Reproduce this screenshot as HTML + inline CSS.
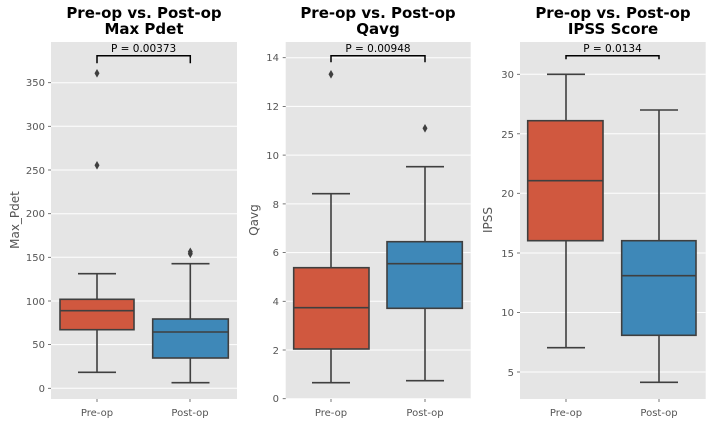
<!DOCTYPE html>
<html><head><meta charset="utf-8"><style>
html,body{margin:0;padding:0;background:#fff;}
svg{display:block;}
text{font-family:"DejaVu Sans","Liberation Sans",sans-serif;}
.t{font-weight:bold;font-size:15px;fill:#000;text-anchor:middle;}
.tk{font-size:10px;fill:#555;}
.yl{font-size:12px;fill:#555;text-anchor:middle;}
.p{font-size:10.5px;fill:#000;text-anchor:middle;}
.g{stroke:#fff;stroke-width:1;}
.l{stroke:#3f3f3f;stroke-width:1.6;fill:none;}
.r{fill:#d0583f;stroke:#3f3f3f;stroke-width:1.6;}
.b{fill:#3e88b8;stroke:#3f3f3f;stroke-width:1.6;}
.br{stroke:#000;stroke-width:1.5;fill:none;}
</style></head><body>
<svg width="712" height="424" viewBox="0 0 712 424">
<!-- Panel 1 -->
<rect x="51" y="42" width="186" height="357" fill="#e5e5e5"/>
<g class="g">
<line x1="51" x2="237" y1="388.3" y2="388.3"/><line x1="51" x2="237" y1="344.6" y2="344.6"/>
<line x1="51" x2="237" y1="301" y2="301"/><line x1="51" x2="237" y1="257.3" y2="257.3"/>
<line x1="51" x2="237" y1="213.7" y2="213.7"/><line x1="51" x2="237" y1="170" y2="170"/>
<line x1="51" x2="237" y1="126.3" y2="126.3"/><line x1="51" x2="237" y1="82.7" y2="82.7"/>
</g>
<g class="tk" text-anchor="end">
<text x="45" y="392">0</text><text x="45" y="348">50</text><text x="45" y="305">100</text>
<text x="45" y="261">150</text><text x="45" y="217">200</text><text x="45" y="174">250</text>
<text x="45" y="130">300</text><text x="45" y="86">350</text>
</g>
<g stroke="#555" stroke-width="0.8">
<line x1="48" x2="51" y1="388.3" y2="388.3"/><line x1="48" x2="51" y1="344.6" y2="344.6"/><line x1="48" x2="51" y1="301" y2="301"/><line x1="48" x2="51" y1="257.3" y2="257.3"/><line x1="48" x2="51" y1="213.7" y2="213.7"/><line x1="48" x2="51" y1="170" y2="170"/><line x1="48" x2="51" y1="126.3" y2="126.3"/><line x1="48" x2="51" y1="82.7" y2="82.7"/>
<line x1="97" x2="97" y1="399" y2="402"/><line x1="190" x2="190" y1="399" y2="402"/>
</g>
<g class="l">
<line x1="97" x2="97" y1="273.7" y2="299.3"/><line x1="97" x2="97" y1="329.7" y2="372.3"/>
<line x1="78" x2="116" y1="273.7" y2="273.7"/><line x1="78" x2="116" y1="372.3" y2="372.3"/>
<line x1="190.3" x2="190.3" y1="263.7" y2="319"/><line x1="190.3" x2="190.3" y1="358" y2="382.7"/>
<line x1="171.5" x2="209.5" y1="263.7" y2="263.7"/><line x1="171.5" x2="209.5" y1="382.7" y2="382.7"/>
</g>
<rect class="r" x="60" y="299.3" width="74" height="30.4"/>
<line class="l" x1="60" x2="134" y1="310.7" y2="310.7"/>
<rect class="b" x="152.7" y="319" width="75.6" height="39"/>
<line class="l" x1="152.7" x2="228.3" y1="332" y2="332"/>
<g fill="#3f3f3f">
<polygon points="97,69 99.5,73.3 97,77.6 94.5,73.3"/><polygon points="97,161 99.5,165.3 97,169.6 94.5,165.3"/>
<polygon points="190.3,249.5 192.8,253.8 190.3,258.1 187.8,253.8"/><polygon points="190.3,247.5 192.8,251.8 190.3,256.1 187.8,251.8"/>
</g>
<polyline class="br" points="97,63.3 97,55.7 190.3,55.7 190.3,63.3"/>
<text class="p" x="143.6" y="52">P = 0.00373</text>
<text class="t" x="144" y="18">Pre-op vs. Post-op</text>
<text class="t" x="144" y="34">Max Pdet</text>
<text class="yl" transform="translate(19,220) rotate(-90)">Max_Pdet</text>
<text class="tk" x="97" y="416" text-anchor="middle">Pre-op</text>
<text class="tk" x="190" y="416" text-anchor="middle">Post-op</text>

<!-- Panel 2 -->
<rect x="285.7" y="42" width="185" height="357" fill="#e5e5e5"/>
<g class="g">
<line x1="285.7" x2="470.7" y1="398.7" y2="398.7"/><line x1="285.7" x2="470.7" y1="350" y2="350"/>
<line x1="285.7" x2="470.7" y1="301.3" y2="301.3"/><line x1="285.7" x2="470.7" y1="252.6" y2="252.6"/>
<line x1="285.7" x2="470.7" y1="203.9" y2="203.9"/><line x1="285.7" x2="470.7" y1="155.1" y2="155.1"/>
<line x1="285.7" x2="470.7" y1="106.4" y2="106.4"/><line x1="285.7" x2="470.7" y1="57.7" y2="57.7"/>
</g>
<g class="tk" text-anchor="end">
<text x="279" y="402">0</text><text x="279" y="354">2</text><text x="279" y="305">4</text>
<text x="279" y="256">6</text><text x="279" y="208">8</text><text x="279" y="159">10</text>
<text x="279" y="110">12</text><text x="279" y="61">14</text>
</g>
<g stroke="#555" stroke-width="0.8">
<line x1="282.7" x2="285.7" y1="398.7" y2="398.7"/><line x1="282.7" x2="285.7" y1="350" y2="350"/><line x1="282.7" x2="285.7" y1="301.3" y2="301.3"/><line x1="282.7" x2="285.7" y1="252.6" y2="252.6"/><line x1="282.7" x2="285.7" y1="203.9" y2="203.9"/><line x1="282.7" x2="285.7" y1="155.1" y2="155.1"/><line x1="282.7" x2="285.7" y1="106.4" y2="106.4"/><line x1="282.7" x2="285.7" y1="57.7" y2="57.7"/>
<line x1="331" x2="331" y1="399" y2="402"/><line x1="425" x2="425" y1="399" y2="402"/>
</g>
<g class="l">
<line x1="331" x2="331" y1="193.7" y2="267.7"/><line x1="331" x2="331" y1="349" y2="382.7"/>
<line x1="312" x2="350" y1="193.7" y2="193.7"/><line x1="312" x2="350" y1="382.7" y2="382.7"/>
<line x1="425" x2="425" y1="166.7" y2="241.7"/><line x1="425" x2="425" y1="308.3" y2="380.7"/>
<line x1="406" x2="444" y1="166.7" y2="166.7"/><line x1="406" x2="444" y1="380.7" y2="380.7"/>
</g>
<rect class="r" x="293.7" y="267.7" width="75.3" height="81.3"/>
<line class="l" x1="293.7" x2="369" y1="307.7" y2="307.7"/>
<rect class="b" x="387" y="241.7" width="75.3" height="66.6"/>
<line class="l" x1="387" x2="462.3" y1="263.7" y2="263.7"/>
<g fill="#3f3f3f">
<polygon points="331,70 333.5,74.3 331,78.6 328.5,74.3"/><polygon points="425,124 427.5,128.3 425,132.6 422.5,128.3"/>
</g>
<polyline class="br" points="331,62.3 331,55.7 425,55.7 425,62.3"/>
<text class="p" x="378" y="52">P = 0.00948</text>
<text class="t" x="378" y="18">Pre-op vs. Post-op</text>
<text class="t" x="378" y="34">Qavg</text>
<text class="yl" transform="translate(258,220) rotate(-90)">Qavg</text>
<text class="tk" x="331" y="416" text-anchor="middle">Pre-op</text>
<text class="tk" x="425" y="416" text-anchor="middle">Post-op</text>

<!-- Panel 3 -->
<rect x="520" y="42" width="185.7" height="357" fill="#e5e5e5"/>
<g class="g">
<line x1="520" x2="705.7" y1="372" y2="372"/><line x1="520" x2="705.7" y1="312.5" y2="312.5"/>
<line x1="520" x2="705.7" y1="253" y2="253"/><line x1="520" x2="705.7" y1="193.3" y2="193.3"/>
<line x1="520" x2="705.7" y1="133.8" y2="133.8"/><line x1="520" x2="705.7" y1="74.3" y2="74.3"/>
</g>
<g class="tk" text-anchor="end">
<text x="514" y="376">5</text><text x="514" y="316">10</text><text x="514" y="257">15</text>
<text x="514" y="197">20</text><text x="514" y="138">25</text><text x="514" y="78">30</text>
</g>
<g stroke="#555" stroke-width="0.8">
<line x1="517" x2="520" y1="372" y2="372"/><line x1="517" x2="520" y1="312.5" y2="312.5"/><line x1="517" x2="520" y1="253" y2="253"/><line x1="517" x2="520" y1="193.3" y2="193.3"/><line x1="517" x2="520" y1="133.8" y2="133.8"/><line x1="517" x2="520" y1="74.3" y2="74.3"/>
<line x1="566" x2="566" y1="399" y2="402"/><line x1="659" x2="659" y1="399" y2="402"/>
</g>
<g class="l">
<line x1="566" x2="566" y1="74.3" y2="120.7"/><line x1="566" x2="566" y1="240.7" y2="347.7"/>
<line x1="547" x2="585" y1="74.3" y2="74.3"/><line x1="547" x2="585" y1="347.7" y2="347.7"/>
<line x1="659" x2="659" y1="110" y2="240.7"/><line x1="659" x2="659" y1="335.3" y2="382.3"/>
<line x1="640" x2="678" y1="110" y2="110"/><line x1="640" x2="678" y1="382.3" y2="382.3"/>
</g>
<rect class="r" x="527.7" y="120.7" width="75.3" height="120"/>
<line class="l" x1="527.7" x2="603" y1="180.7" y2="180.7"/>
<rect class="b" x="621.7" y="240.7" width="74.3" height="94.6"/>
<line class="l" x1="621.7" x2="696" y1="275.7" y2="275.7"/>
<polyline class="br" points="566,59.3 566,55.7 659,55.7 659,59.3"/>
<text class="p" x="612.5" y="52">P = 0.0134</text>
<text class="t" x="613" y="18">Pre-op vs. Post-op</text>
<text class="t" x="613" y="34">IPSS Score</text>
<text class="yl" transform="translate(492,220) rotate(-90)">IPSS</text>
<text class="tk" x="566" y="416" text-anchor="middle">Pre-op</text>
<text class="tk" x="659" y="416" text-anchor="middle">Post-op</text>
</svg>
</body></html>
